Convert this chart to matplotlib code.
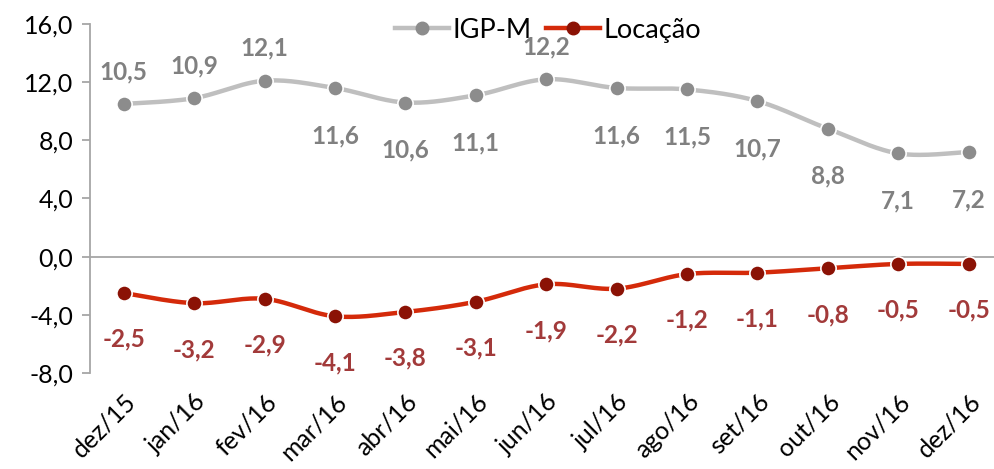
import numpy as np
import matplotlib
matplotlib.use("Agg")
import matplotlib.pyplot as plt
from matplotlib.lines import Line2D

months = ["dez/15", "jan/16", "fev/16", "mar/16", "abr/16", "mai/16", "jun/16",
          "jul/16", "ago/16", "set/16", "out/16", "nov/16", "dez/16"]
igpm = [10.5, 10.9, 12.1, 11.6, 10.6, 11.1, 12.2, 11.6, 11.5, 10.7, 8.8, 7.1, 7.2]
locacao = [-2.5, -3.2, -2.9, -4.1, -3.8, -3.1, -1.9, -2.2, -1.2, -1.1, -0.8, -0.5, -0.5]
igpm_above = [True, True, True, False, False, False, True, False, False, False, False, False, False]
yticks = [-8, -4, 0, 4, 8, 12, 16]

plt.rcParams['font.family'] = ['Lato', 'DejaVu Sans']

def smooth(x, y, n=30):
    x = np.asarray(x, float); y = np.asarray(y, float)
    px = np.concatenate([[x[0]], x, [x[-1]]])
    py = np.concatenate([[y[0]], y, [y[-1]]])
    xs, ys = [], []
    t = 1.0 / 6.0
    for i in range(1, len(px) - 2):
        p0 = np.array([px[i], py[i]]); p3 = np.array([px[i+1], py[i+1]])
        p1 = p0 + (np.array([px[i+1], py[i+1]]) - np.array([px[i-1], py[i-1]])) * t
        p2 = p3 - (np.array([px[i+2], py[i+2]]) - np.array([px[i], py[i]])) * t
        s = np.linspace(0, 1, n)[:, None]
        b = (1-s)**3*p0 + 3*(1-s)**2*s*p1 + 3*(1-s)*s**2*p2 + s**3*p3
        xs.extend(b[:, 0]); ys.extend(b[:, 1])
    return np.array(xs), np.array(ys)

fig = plt.figure(figsize=(9.94, 4.69), dpi=100)
ax = fig.add_axes([90/994, 1-373/469, 1-90/994, 349/469])

x = np.arange(len(months))
gray_line = '#BFBFBF'; gray_mark = '#8C8C8C'; gray_text = '#808080'
red_line = '#D42A0A'; red_mark = '#8B1205'; red_text = '#A23A3A'

sx, sy = smooth(x, igpm)
ax.plot(sx, sy, color=gray_line, lw=3.2, zorder=3, solid_capstyle='round')
ax.plot(x, igpm, 'o', ms=11, mfc=gray_mark, mec='white', mew=1.2, zorder=4)
sx, sy = smooth(x, locacao)
ax.plot(sx, sy, color=red_line, lw=3.2, zorder=3, solid_capstyle='round')
ax.plot(x, locacao, 'o', ms=11, mfc=red_mark, mec='white', mew=1.2, zorder=4)

for xi, v, up in zip(x, igpm, igpm_above):
    ax.annotate(f"{v:.1f}".replace('.', ','), (xi, v), xytext=(0, 15 if up else -26),
                textcoords='offset points', ha='center', va='bottom' if up else 'top',
                fontsize=17.5, fontweight='bold', color=gray_text)
for xi, v in zip(x, locacao):
    ax.annotate(f"{v:.1f}".replace('.', ','), (xi, v), xytext=(0, -25),
                textcoords='offset points', ha='center', va='top',
                fontsize=17.5, fontweight='bold', color=red_text)

ax.set_ylim(-8, 16)
ax.set_xlim(-0.48, 12.36)
ax.set_yticks(yticks)
ax.set_yticklabels([f"{t:.1f}".replace('.', ',') for t in yticks], fontsize=18)
ax.axhline(0, color='#A6A6A6', lw=1.3, zorder=1)
for s in ['top', 'right', 'bottom']:
    ax.spines[s].set_visible(False)
ax.spines['left'].set_color('#A6A6A6')
ax.spines['left'].set_linewidth(1.3)
ax.tick_params(axis='y', length=6, width=1.3, color='#A6A6A6', pad=6)
ax.set_xticks(x)
ax.set_xticklabels(months, rotation=45, ha='right', rotation_mode='anchor', fontsize=18)
ax.tick_params(axis='x', length=0, pad=12)

handles = [Line2D([], [], color=gray_line, lw=3.2, marker='o', ms=9, mfc=gray_mark, mec=gray_mark),
           Line2D([], [], color=red_line, lw=3.2, marker='o', ms=9, mfc=red_mark, mec=red_mark)]
fig.legend(handles, ["IGP-M", "Locação"], loc='center', bbox_to_anchor=(548/994, 1-30/469),
           ncol=2, frameon=False, fontsize=19.5, handlelength=2.0, columnspacing=0.5,
           handletextpad=0.15)

fig.savefig("out.png", dpi=100)
